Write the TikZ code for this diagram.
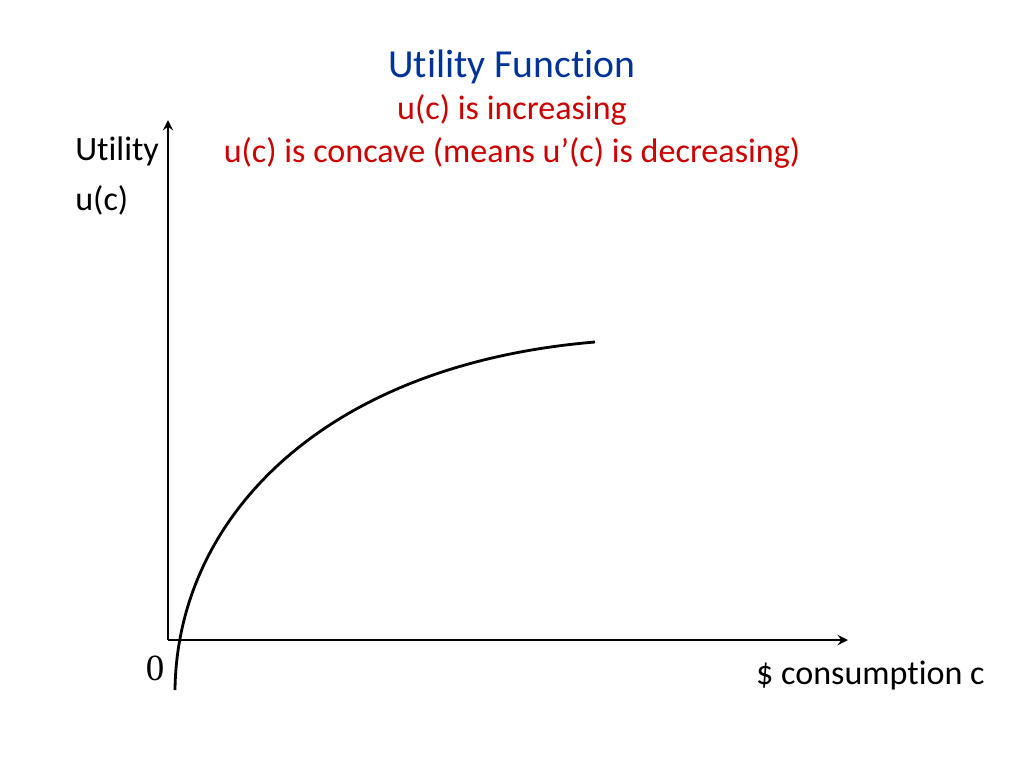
\documentclass[tikz,border=0pt]{standalone}
\usepackage{fontspec}
\setmainfont[Ligatures=NoCommon]{Carlito}
\newfontfamily\zerofont{Liberation Serif}
\definecolor{titleblue}{RGB}{0,51,153}
\definecolor{notered}{RGB}{204,0,0}
\begin{document}
\begin{tikzpicture}[x = 0.02cm, y = -0.02cm,
									axis/.style = {
										line width = 1.6pt,
										-stealth
									},
									curve/.style = {
										line width = 1.6pt
									},
									lbl/.style = {
										font = \fontsize{19.4}{23}\selectfont,
										inner sep = 0
									}
								]
							\useasboundingbox (0, 0) rectangle (1024, 768);

							\coordinate (o) at (168, 640);
							\coordinate (ytop) at (168, 120);
							\coordinate (xend) at (848, 640);
							\coordinate (cstart) at (175, 690);
							\coordinate (cend) at (595, 342);

							\draw [axis] (o) -- (ytop);
							\draw [axis] (o) -- (xend);
							\draw [curve] (cstart) .. controls (177, 520) and (320, 365) .. (cend);

							\node [lbl, text = titleblue, font = \fontsize{22.6}{27}\selectfont] (title) at (512, 67) {Utility Function};
							\node [lbl, text = notered] (incr) at (512, 110) {u(c) is increasing};
							\node [lbl, text = notered] (conc) at (512, 153) {u(c) is concave (means u’(c) is decreasing)};
							\node [lbl, anchor = west, align = left, font = \fontsize{19.4}{28}\selectfont] (ylab) at (75, 176) {Utility\\u(c)};
							\node [lbl, font = \zerofont\fontsize{21}{25}\selectfont] (zero) at (155, 668) {0};
							\node [lbl, anchor = east] (xlab) at (985, 676) {\$ consumption c};
						\end{tikzpicture}
\end{document}
